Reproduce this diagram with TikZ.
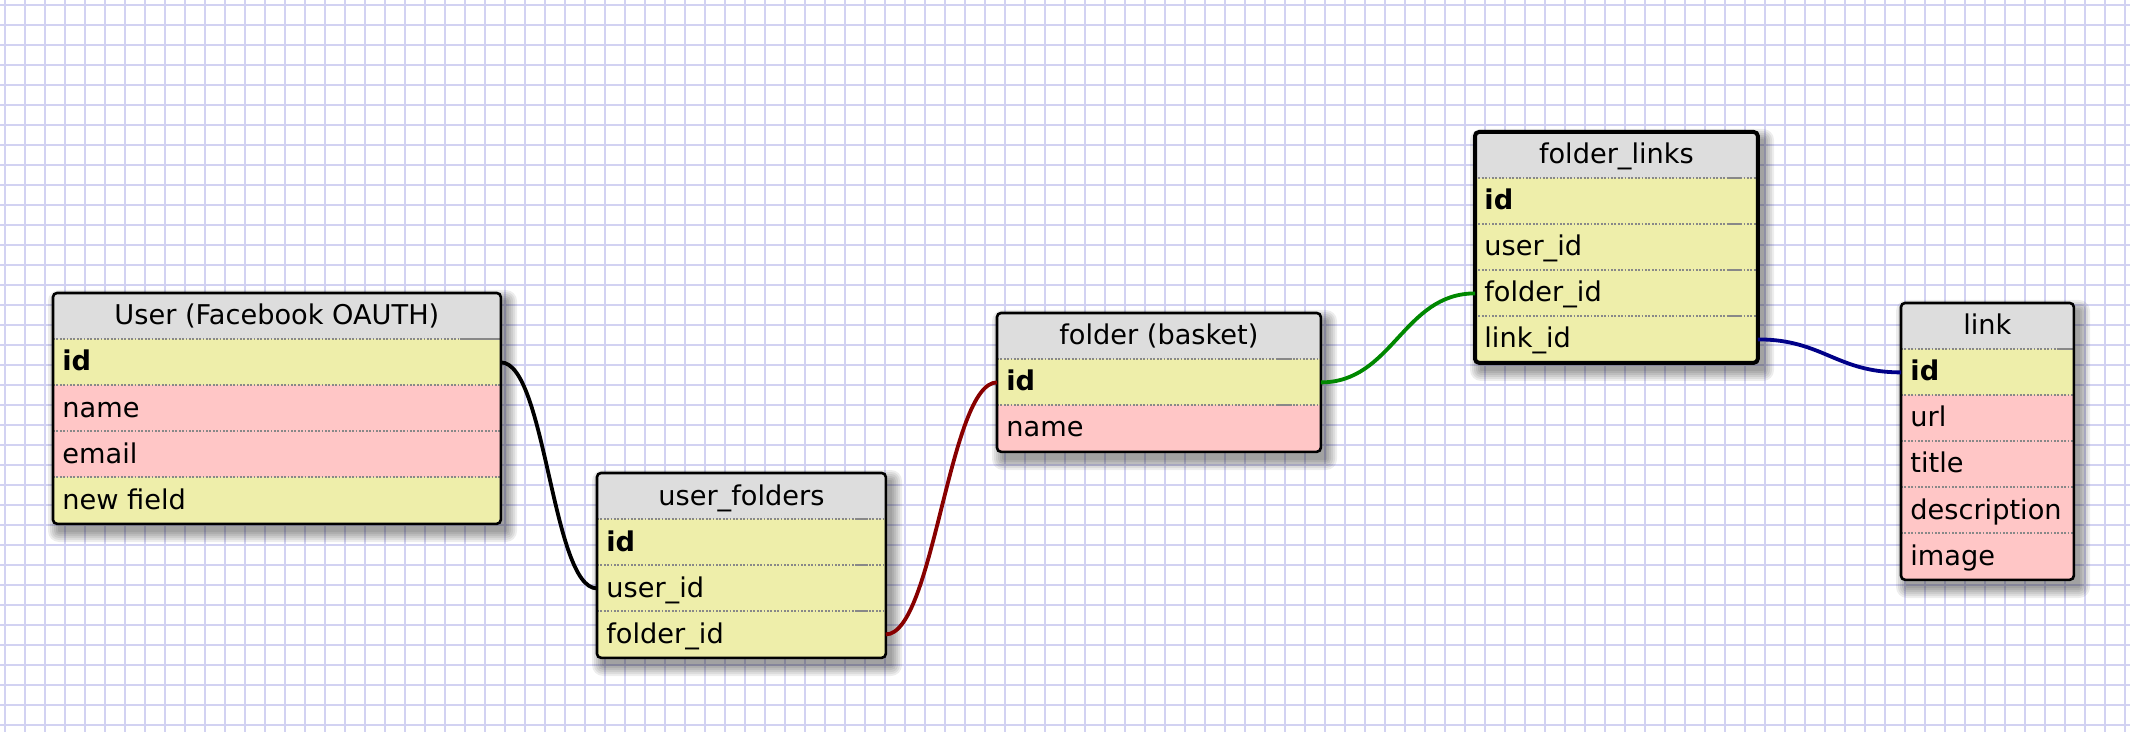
\documentclass[tikz,border=0pt]{standalone}
\usepackage{fontspec}
\setmainfont{DejaVu Sans}
\usetikzlibrary{calc}

\definecolor{gridblue}{RGB}{210,210,242}
\definecolor{headgray}{RGB}{221,221,221}
\definecolor{keyyellow}{RGB}{238,238,170}
\definecolor{fieldpink}{RGB}{255,198,198}
\definecolor{sepgray}{RGB}{136,136,136}
\definecolor{relred}{RGB}{136,0,0}
\definecolor{relgreen}{RGB}{0,136,0}
\definecolor{relblue}{RGB}{0,0,136}

\tikzset{
  cell/.style={anchor=north west, inner sep=0pt, minimum height=23pt, draw=none},
  celltext/.style={anchor=base west, inner sep=0pt, font=\fontsize{13.6}{15}\selectfont},
  headtext/.style={anchor=base, inner sep=0pt, font=\fontsize{13.6}{15}\selectfont},
  sepline/.style={draw=sepgray, line width=0.9pt, dash pattern=on 0.9pt off 0.8pt},
  stubline/.style={draw=sepgray, line width=0.9pt},
  frame/.style={draw=black, line width=1.3pt, rounded corners=2pt},
  selframe/.style={frame, line width=2pt},
  rel/.style={line width=1.9pt},
  gridline/.style={draw=gridblue, line width=1pt},
}

% table header cell with centred title
\newcommand\erhead[5]{%
  \node[cell, fill=headgray, minimum width=#4*0.5pt] (#1) at (#2,#3) {};
  \node[headtext] (#1-txt) at ($(#1.north)+(0,32)$) {#5};}
% table field cell: name, x, y, width, colour, text
\newcommand\errow[6]{%
  \node[cell, fill=#5, minimum width=#4*0.5pt] (#1) at (#2,#3) {};
  \node[celltext] (#1-txt) at ($(#1.north west)+(9,32)$) {#6};}
% soft drop shadow: x, y, width, height
\newcommand\ershadow[4]{%
  \foreach \r in {11,9,7,5,3,1}{%
    \fill[black, opacity=0.07, rounded corners=\r*0.5pt]
      (#1+6-\r,#2+8-\r) rectangle (#1+#3+6+\r,#2+#4+8+\r);}}

\begin{document}
\begin{tikzpicture}[x=0.5pt, y=-0.5pt]
\useasboundingbox (0,0) rectangle (2130,732);
\fill[white] (0,0) rectangle (2130,732);

% background grid
\foreach \gx in {5,25,...,2125} \draw[gridline] (\gx,0) -- (\gx,732);
\foreach \gy in {5,25,...,725} \draw[gridline] (0,\gy) -- (2130,\gy);

% ---- User (Facebook OAUTH)
\ershadow{53}{293}{447}{230}
\begin{scope}
  \clip[rounded corners=2pt] (53,293) rectangle ++(447,230);
  \erhead{user}{53}{293}{447}{User (Facebook OAUTH)}
  \errow{user-id}{53}{339}{447}{keyyellow}{\textbf{id}}
  \errow{user-name}{53}{385}{447}{fieldpink}{name}
  \errow{user-email}{53}{431}{447}{fieldpink}{email}
  \errow{user-new}{53}{477}{447}{keyyellow}{new field}
\end{scope}
\foreach \n in {user-id,user-name,user-email,user-new}
  \draw[sepline] (\n.north west) -- (\n.north east);
\draw[stubline] ($(user-id.north east)+(-41,0)$) -- (user-id.north east);
\draw[frame] (user.north west) rectangle (user-new.south east);

% ---- user_folders
\ershadow{597}{473}{288}{184}
\begin{scope}
  \clip[rounded corners=2pt] (597,473) rectangle ++(288,184);
  \erhead{uf}{597}{473}{288}{user\_folders}
  \errow{uf-id}{597}{519}{288}{keyyellow}{\textbf{id}}
  \errow{uf-userid}{597}{565}{288}{keyyellow}{user\_id}
  \errow{uf-folderid}{597}{611}{288}{keyyellow}{folder\_id}
\end{scope}
\foreach \n in {uf-id,uf-userid,uf-folderid}{
  \draw[sepline] (\n.north west) -- (\n.north east);
  \draw[stubline] ($(\n.north east)+(-30,0)$) -- ++(12,0);}
\draw[frame] (uf.north west) rectangle (uf-folderid.south east);

% ---- folder (basket)
\ershadow{997}{313}{323}{138}
\begin{scope}
  \clip[rounded corners=2pt] (997,313) rectangle ++(323,138);
  \erhead{fo}{997}{313}{323}{folder (basket)}
  \errow{fo-id}{997}{359}{323}{keyyellow}{\textbf{id}}
  \errow{fo-name}{997}{405}{323}{fieldpink}{name}
\end{scope}
\foreach \n in {fo-id,fo-name}{
  \draw[sepline] (\n.north west) -- (\n.north east);
  \draw[stubline] ($(\n.north east)+(-44,0)$) -- ++(15,0);}
\draw[frame] (fo.north west) rectangle (fo-name.south east);

% ---- folder_links (selected, heavier frame)
\ershadow{1475}{132}{282}{230}
\begin{scope}
  \clip[rounded corners=2pt] (1475,132) rectangle ++(282,230);
  \erhead{fl}{1475}{132}{282}{folder\_links}
  \errow{fl-id}{1475}{178}{282}{keyyellow}{\textbf{id}}
  \errow{fl-userid}{1475}{224}{282}{keyyellow}{user\_id}
  \errow{fl-folderid}{1475}{270}{282}{keyyellow}{folder\_id}
  \errow{fl-linkid}{1475}{316}{282}{keyyellow}{link\_id}
\end{scope}
\foreach \n in {fl-id,fl-userid,fl-folderid,fl-linkid}{
  \draw[sepline] (\n.north west) -- (\n.north east);
  \draw[stubline] ($(\n.north east)+(-30,0)$) -- ++(13,0);}
\draw[selframe] (fl.north west) rectangle (fl-linkid.south east);

% ---- link
\ershadow{1901}{303}{172}{276}
\begin{scope}
  \clip[rounded corners=2pt] (1901,303) rectangle ++(172,276);
  \erhead{ln}{1901}{303}{172}{link}
  \errow{ln-id}{1901}{349}{172}{keyyellow}{\textbf{id}}
  \errow{ln-url}{1901}{395}{172}{fieldpink}{url}
  \errow{ln-title}{1901}{441}{172}{fieldpink}{title}
  \errow{ln-desc}{1901}{487}{172}{fieldpink}{description}
  \errow{ln-image}{1901}{533}{172}{fieldpink}{image}
\end{scope}
\foreach \n in {ln-id,ln-url,ln-title,ln-desc,ln-image}
  \draw[sepline] (\n.north west) -- (\n.north east);
\draw[stubline] ($(ln-id.north east)+(-15,0)$) -- (ln-id.north east);
\draw[frame] (ln.north west) rectangle (ln-image.south east);

% ---- relations
\draw[rel, black] (user-id.east) .. controls +(45,0) and +(-45,0) .. (uf-userid.west);
\draw[rel, relred] (uf-folderid.east) .. controls +(48,0) and +(-48,0) .. (fo-id.west);
\draw[rel, relgreen] (fo-id.east) .. controls +(72,0) and +(-72,0) .. (fl-folderid.west);
\draw[rel, relblue] (fl-linkid.east) .. controls +(65,0) and +(-65,0) .. (ln-id.west);
\end{tikzpicture}
\end{document}
